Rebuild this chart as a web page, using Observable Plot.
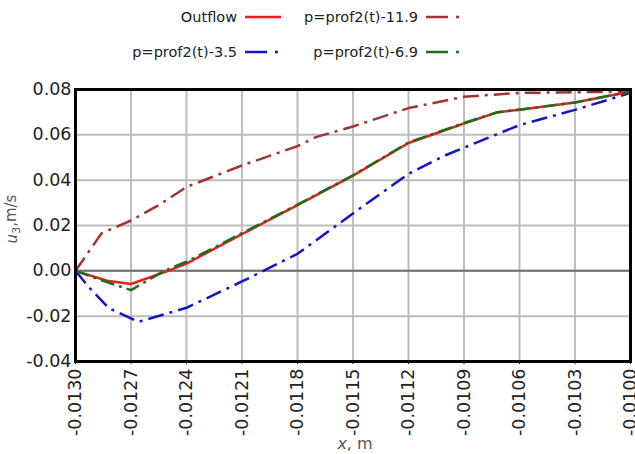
<!DOCTYPE html>
<html>
<head>
<meta charset="utf-8">
<script src="https://cdn.jsdelivr.net/npm/d3@7"></script>
<script src="https://cdn.jsdelivr.net/npm/@observablehq/plot@0.6"></script>
<style>
  html, body { margin: 0; padding: 0; background: #fff; }
  #wrap { width: 635px; height: 454px; position: relative; font-family: "DejaVu Sans", sans-serif; }
  #legend { position: relative; width: 635px; height: 66px; }
  .item { position: absolute; display: flex; align-items: center; font-size: 14.5px; color: #222; }
  .item span { text-align: right; }
  .item svg { margin-left: 8px; }
</style>
</head>
<body>
<div id="wrap">
  <div id="legend"></div>
  <div id="chart"></div>
</div>
<script>
// Velocity profiles u3 along x for the outflow and three pressure cases
const seriesNames = ["Outflow", "p=prof2(t)-11.9", "p=prof2(t)-3.5", "p=prof2(t)-6.9"];

const xOutflow = [-0.0130, -0.01283, -0.0127, -0.0125, -0.0124, -0.0121, -0.0118, -0.0115, -0.0112, -0.0109, -0.01072, -0.0106, -0.0103, -0.0101, -0.0100];
const uOutflow = [0.0000, -0.0044, -0.0058, 0.0000, 0.0032, 0.0162, 0.0290, 0.0420, 0.0564, 0.0650, 0.0699, 0.0711, 0.0743, 0.0775, 0.0790];

const x119 = [-0.0130, -0.01286, -0.0127, -0.01255, -0.0124, -0.0121, -0.0118, -0.0117, -0.0115, -0.0112, -0.0109, -0.0106, -0.0103, -0.0100];
const u119 = [0.0000, 0.0165, 0.0222, 0.0290, 0.0370, 0.0465, 0.0550, 0.0590, 0.0637, 0.0718, 0.0768, 0.0785, 0.0788, 0.0790];

const x35 = [-0.0130, -0.01293, -0.01282, -0.01266, -0.0124, -0.0121, -0.0118, -0.0115, -0.0112, -0.0110, -0.0106, -0.0103, -0.0100];
const u35 = [0.0000, -0.0070, -0.0165, -0.0225, -0.0163, -0.0047, 0.0075, 0.0253, 0.0428, 0.0510, 0.0643, 0.0710, 0.0785];

const x69 = [-0.0130, -0.01283, -0.0127, -0.01252, -0.0124, -0.0121, -0.0118, -0.0115, -0.0112, -0.0109, -0.01072, -0.0106, -0.0103, -0.0101, -0.0100];
const u69 = [0.0000, -0.0050, -0.0085, 0.0000, 0.0040, 0.0166, 0.0292, 0.0421, 0.0566, 0.0652, 0.0700, 0.0711, 0.0743, 0.0775, 0.0790];

const xTicks = [-0.0130, -0.0127, -0.0124, -0.0121, -0.0118, -0.0115, -0.0112, -0.0109, -0.0106, -0.0103, -0.0100];
const yTicks = [-0.04, -0.02, 0.00, 0.02, 0.04, 0.06, 0.08];

const styles = {
  "Outflow":          {color: "#ee1c1c", dash: null},
  "p=prof2(t)-11.9":  {color: "#a43232", dash: "16,6,3,6"},
  "p=prof2(t)-3.5":   {color: "#1414c8", dash: "16,6,3,6"},
  "p=prof2(t)-6.9":   {color: "#1c6e1c", dash: "14,5,3,5"}
};

const toRows = (xs, us) => xs.map((x, i) => ({x, u: us[i]}));
const rows = {
  "Outflow": toRows(xOutflow, uOutflow),
  "p=prof2(t)-11.9": toRows(x119, u119),
  "p=prof2(t)-3.5": toRows(x35, u35),
  "p=prof2(t)-6.9": toRows(x69, u69)
};

const drawOrder = ["p=prof2(t)-11.9", "p=prof2(t)-3.5", "Outflow", "p=prof2(t)-6.9"];

const chart = Plot.plot({
  width: 635,
  height: 388,
  marginLeft: 75,
  marginRight: 5,
  marginTop: 23,
  marginBottom: 93,
  x: {domain: [-0.0130, -0.0100]},
  y: {domain: [-0.04, 0.08]},
  style: {fontFamily: "'DejaVu Sans', sans-serif", fontSize: "17.5px", color: "#222", background: "#fff", overflow: "visible"},
  marks: [
    Plot.gridX(xTicks, {stroke: "#bdbdbd", strokeWidth: 2, strokeOpacity: 1}),
    Plot.gridY(yTicks, {stroke: "#bdbdbd", strokeWidth: 2, strokeOpacity: 1}),
    Plot.ruleY([0], {stroke: "#6e6e6e", strokeWidth: 2}),
    ...drawOrder.map(name => Plot.line(rows[name], {
      x: "x", y: "u",
      stroke: styles[name].color,
      strokeWidth: 2.5,
      strokeDasharray: styles[name].dash,
      strokeLinejoin: "round",
      strokeLinecap: "butt"
    })),
    Plot.frame({stroke: "#000", strokeWidth: 3}),
    Plot.axisX(xTicks, {tickRotate: -90, tickFormat: d => d.toFixed(4), tickSize: 3, tickPadding: 4, label: null, stroke: "#000"}),
    Plot.axisY(yTicks, {tickFormat: d => d.toFixed(2), tickSize: 0, tickPadding: 4, label: null})
  ]
});
document.getElementById("chart").appendChild(chart);

// Axis titles with italic symbol and subscript
const svg = d3.select(chart);
const yl = svg.append("text")
  .attr("transform", "translate(17,153) rotate(-90)")
  .attr("text-anchor", "middle")
  .attr("fill", "#555")
  .style("font-size", "15px");
yl.append("tspan").attr("font-style", "italic").text("u");
yl.append("tspan").attr("dy", "0.3em").style("font-size", "11px").text("3");
yl.append("tspan").attr("dy", "-0.3em").text(",m/s");

const xl = svg.append("text")
  .attr("x", 355).attr("y", 383)
  .attr("text-anchor", "middle")
  .attr("fill", "#555")
  .style("font-size", "16px");
xl.append("tspan").attr("font-style", "italic").text("x");
xl.append("tspan").text(", m");

// Legend: two rows, text right-aligned before a line sample
const legendItems = [
  {name: "Outflow",         right: 237, top: 17, sample: "solid"},
  {name: "p=prof2(t)-11.9", right: 418, top: 17, sample: "dashdot"},
  {name: "p=prof2(t)-3.5",  right: 237, top: 52, sample: "dashdot"},
  {name: "p=prof2(t)-6.9",  right: 418, top: 52, sample: "dashdot"}
];
const legend = d3.select("#legend");
for (const it of legendItems) {
  const st = styles[it.name];
  const div = legend.append("div").attr("class", "item")
    .style("left", (it.right - 200) + "px")
    .style("top", (it.top - 10) + "px");
  div.append("span").style("width", "200px").style("display", "inline-block").text(it.name);
  const s = div.append("svg").attr("width", 42).attr("height", 20);
  if (it.sample === "solid") {
    s.append("line").attr("x1", 0).attr("x2", 36).attr("y1", 10).attr("y2", 10)
      .attr("stroke", st.color).attr("stroke-width", 2.5);
  } else {
    s.append("line").attr("x1", 0).attr("x2", 22).attr("y1", 10).attr("y2", 10)
      .attr("stroke", st.color).attr("stroke-width", 2.5);
    s.append("line").attr("x1", 30).attr("x2", 33).attr("y1", 10).attr("y2", 10)
      .attr("stroke", st.color).attr("stroke-width", 2.5);
  }
}
</script>
</body>
</html>
